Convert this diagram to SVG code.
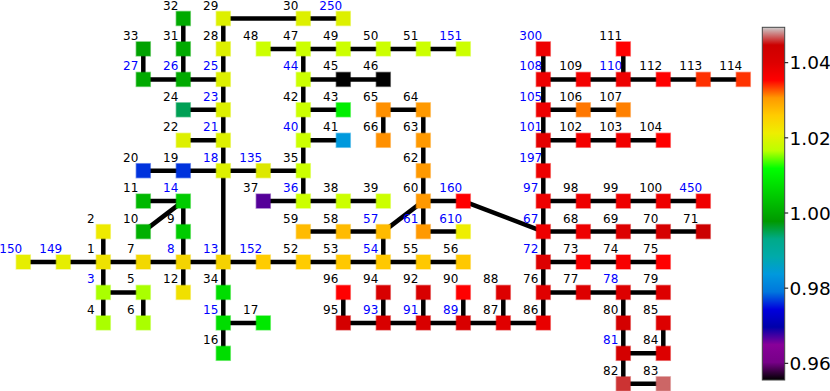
<svg xmlns="http://www.w3.org/2000/svg" width="830" height="391" viewBox="0 0 830 391">
<style>
text{font-family:"DejaVu Sans",sans-serif;font-size:12px;text-anchor:middle;fill:#000}
text.b{fill:#0000ff}
rect.n{fill:currentColor;stroke:currentColor;stroke-opacity:.45;stroke-width:1.5}
#edges line{stroke:#000;stroke-width:4.5}
.tick{font-size:18.5px;text-anchor:start}
</style>
<defs>
<linearGradient id="cmap" x1="0" y1="1" x2="0" y2="0">
<stop offset="0" stop-color="#000000"/>
<stop offset="0.05" stop-color="#770088"/>
<stop offset="0.10" stop-color="#880099"/>
<stop offset="0.15" stop-color="#0000aa"/>
<stop offset="0.20" stop-color="#0000dd"/>
<stop offset="0.25" stop-color="#0077dd"/>
<stop offset="0.30" stop-color="#0099dd"/>
<stop offset="0.35" stop-color="#00aaaa"/>
<stop offset="0.40" stop-color="#00aa88"/>
<stop offset="0.45" stop-color="#009900"/>
<stop offset="0.50" stop-color="#00bb00"/>
<stop offset="0.55" stop-color="#00dd00"/>
<stop offset="0.60" stop-color="#00ff00"/>
<stop offset="0.65" stop-color="#bbff00"/>
<stop offset="0.70" stop-color="#eeee00"/>
<stop offset="0.75" stop-color="#ffcc00"/>
<stop offset="0.80" stop-color="#ff9900"/>
<stop offset="0.85" stop-color="#ff0000"/>
<stop offset="0.90" stop-color="#dd0000"/>
<stop offset="0.95" stop-color="#cc0000"/>
<stop offset="1" stop-color="#cccccc"/>
</linearGradient>
</defs>
<rect width="830" height="391" fill="#fff"/>
<g id="edges">
<line x1="23.3" y1="262" x2="463.3" y2="262"/>
<line x1="223.3" y1="18.5" x2="343.3" y2="18.5"/>
<line x1="263.3" y1="48.9" x2="463.3" y2="48.9"/>
<line x1="143.3" y1="79.4" x2="223.3" y2="79.4"/>
<line x1="303.3" y1="79.4" x2="383.3" y2="79.4"/>
<line x1="543.3" y1="79.4" x2="743.3" y2="79.4"/>
<line x1="183.3" y1="109.8" x2="223.3" y2="109.8"/>
<line x1="303.3" y1="109.8" x2="343.3" y2="109.8"/>
<line x1="383.3" y1="109.8" x2="423.3" y2="109.8"/>
<line x1="543.3" y1="109.8" x2="623.3" y2="109.8"/>
<line x1="183.3" y1="140.3" x2="223.3" y2="140.3"/>
<line x1="303.3" y1="140.3" x2="343.3" y2="140.3"/>
<line x1="543.3" y1="140.3" x2="663.3" y2="140.3"/>
<line x1="143.3" y1="170.7" x2="303.3" y2="170.7"/>
<line x1="143.3" y1="201.1" x2="183.3" y2="201.1"/>
<line x1="263.3" y1="201.1" x2="383.3" y2="201.1"/>
<line x1="423.3" y1="201.1" x2="463.3" y2="201.1"/>
<line x1="543.3" y1="201.1" x2="703.3" y2="201.1"/>
<line x1="303.3" y1="231.6" x2="383.3" y2="231.6"/>
<line x1="423.3" y1="231.6" x2="463.3" y2="231.6"/>
<line x1="543.3" y1="231.6" x2="703.3" y2="231.6"/>
<line x1="543.3" y1="262" x2="663.3" y2="262"/>
<line x1="103.3" y1="292.4" x2="143.3" y2="292.4"/>
<line x1="543.3" y1="292.4" x2="663.3" y2="292.4"/>
<line x1="223.3" y1="322.9" x2="263.3" y2="322.9"/>
<line x1="343.3" y1="322.9" x2="543.3" y2="322.9"/>
<line x1="623.3" y1="353.3" x2="663.3" y2="353.3"/>
<line x1="623.3" y1="383.8" x2="663.3" y2="383.8"/>
<line x1="103.3" y1="231.6" x2="103.3" y2="322.9"/>
<line x1="143.3" y1="292.4" x2="143.3" y2="322.9"/>
<line x1="143.3" y1="48.9" x2="143.3" y2="79.4"/>
<line x1="183.3" y1="18.5" x2="183.3" y2="79.4"/>
<line x1="183.3" y1="201.1" x2="183.3" y2="292.4"/>
<line x1="223.3" y1="18.5" x2="223.3" y2="353.3"/>
<line x1="303.3" y1="48.9" x2="303.3" y2="201.1"/>
<line x1="383.3" y1="109.8" x2="383.3" y2="140.3"/>
<line x1="383.3" y1="231.6" x2="383.3" y2="262"/>
<line x1="423.3" y1="109.8" x2="423.3" y2="231.6"/>
<line x1="343.3" y1="292.4" x2="343.3" y2="322.9"/>
<line x1="383.3" y1="292.4" x2="383.3" y2="322.9"/>
<line x1="423.3" y1="292.4" x2="423.3" y2="322.9"/>
<line x1="463.3" y1="292.4" x2="463.3" y2="322.9"/>
<line x1="503.3" y1="292.4" x2="503.3" y2="322.9"/>
<line x1="543.3" y1="48.9" x2="543.3" y2="322.9"/>
<line x1="623.3" y1="48.9" x2="623.3" y2="79.4"/>
<line x1="623.3" y1="292.4" x2="623.3" y2="383.8"/>
<line x1="663.3" y1="322.9" x2="663.3" y2="353.3"/>
<line x1="143.3" y1="231.6" x2="183.3" y2="201.1"/>
<line x1="383.3" y1="231.6" x2="423.3" y2="201.1"/>
<line x1="463.3" y1="201.1" x2="543.3" y2="231.6"/>
</g>
<g id="n150" transform="translate(23.3,262)"><rect class="n" x="-7" y="-7" width="14" height="14" color="#e6ee00"/><text class="b" x="-12.6" y="-9">150</text></g>
<g id="n149" transform="translate(63.3,262)"><rect class="n" x="-7" y="-7" width="14" height="14" color="#e6ee00"/><text class="b" x="-12.6" y="-9">149</text></g>
<g id="n1" transform="translate(103.3,262)"><rect class="n" x="-7" y="-7" width="14" height="14" color="#eee200"/><text x="-12.6" y="-9">1</text></g>
<g id="n2" transform="translate(103.3,231.6)"><rect class="n" x="-7" y="-7" width="14" height="14" color="#eeea00"/><text x="-12.6" y="-9">2</text></g>
<g id="n3" transform="translate(103.3,292.4)"><rect class="n" x="-7" y="-7" width="14" height="14" color="#aaff00"/><text class="b" x="-12.6" y="-9">3</text></g>
<g id="n4" transform="translate(103.3,322.9)"><rect class="n" x="-7" y="-7" width="14" height="14" color="#aaff00"/><text x="-12.6" y="-9">4</text></g>
<g id="n5" transform="translate(143.3,292.4)"><rect class="n" x="-7" y="-7" width="14" height="14" color="#aaff00"/><text x="-12.6" y="-9">5</text></g>
<g id="n6" transform="translate(143.3,322.9)"><rect class="n" x="-7" y="-7" width="14" height="14" color="#aaff00"/><text x="-12.6" y="-9">6</text></g>
<g id="n7" transform="translate(143.3,262)"><rect class="n" x="-7" y="-7" width="14" height="14" color="#f2d800"/><text x="-12.6" y="-9">7</text></g>
<g id="n8" transform="translate(183.3,262)"><rect class="n" x="-7" y="-7" width="14" height="14" color="#f4d400"/><text class="b" x="-12.6" y="-9">8</text></g>
<g id="n9" transform="translate(183.3,231.6)"><rect class="n" x="-7" y="-7" width="14" height="14" color="#00cc00"/><text x="-12.6" y="-9">9</text></g>
<g id="n10" transform="translate(143.3,231.6)"><rect class="n" x="-7" y="-7" width="14" height="14" color="#00b000"/><text x="-12.6" y="-9">10</text></g>
<g id="n11" transform="translate(143.3,201.1)"><rect class="n" x="-7" y="-7" width="14" height="14" color="#00b800"/><text x="-12.6" y="-9">11</text></g>
<g id="n14" transform="translate(183.3,201.1)"><rect class="n" x="-7" y="-7" width="14" height="14" color="#00cc00"/><text class="b" x="-12.6" y="-9">14</text></g>
<g id="n12" transform="translate(183.3,292.4)"><rect class="n" x="-7" y="-7" width="14" height="14" color="#f0e000"/><text x="-12.6" y="-9">12</text></g>
<g id="n13" transform="translate(223.3,262)"><rect class="n" x="-7" y="-7" width="14" height="14" color="#f5d200"/><text class="b" x="-12.6" y="-9">13</text></g>
<g id="n34" transform="translate(223.3,292.4)"><rect class="n" x="-7" y="-7" width="14" height="14" color="#00dd00"/><text x="-12.6" y="-9">34</text></g>
<g id="n15" transform="translate(223.3,322.9)"><rect class="n" x="-7" y="-7" width="14" height="14" color="#00dd00"/><text class="b" x="-12.6" y="-9">15</text></g>
<g id="n16" transform="translate(223.3,353.3)"><rect class="n" x="-7" y="-7" width="14" height="14" color="#00dd00"/><text x="-12.6" y="-9">16</text></g>
<g id="n17" transform="translate(263.3,322.9)"><rect class="n" x="-7" y="-7" width="14" height="14" color="#00e800"/><text x="-12.6" y="-9">17</text></g>
<g id="n152" transform="translate(263.3,262)"><rect class="n" x="-7" y="-7" width="14" height="14" color="#ffcc00"/><text class="b" x="-12.6" y="-9">152</text></g>
<g id="n52" transform="translate(303.3,262)"><rect class="n" x="-7" y="-7" width="14" height="14" color="#ffcc00"/><text x="-12.6" y="-9">52</text></g>
<g id="n53" transform="translate(343.3,262)"><rect class="n" x="-7" y="-7" width="14" height="14" color="#ffc800"/><text x="-12.6" y="-9">53</text></g>
<g id="n54" transform="translate(383.3,262)"><rect class="n" x="-7" y="-7" width="14" height="14" color="#ffc800"/><text class="b" x="-12.6" y="-9">54</text></g>
<g id="n55" transform="translate(423.3,262)"><rect class="n" x="-7" y="-7" width="14" height="14" color="#ffc800"/><text x="-12.6" y="-9">55</text></g>
<g id="n56" transform="translate(463.3,262)"><rect class="n" x="-7" y="-7" width="14" height="14" color="#ffc800"/><text x="-12.6" y="-9">56</text></g>
<g id="n20" transform="translate(143.3,170.7)"><rect class="n" x="-7" y="-7" width="14" height="14" color="#0033dd"/><text x="-12.6" y="-9">20</text></g>
<g id="n19" transform="translate(183.3,170.7)"><rect class="n" x="-7" y="-7" width="14" height="14" color="#0033dd"/><text x="-12.6" y="-9">19</text></g>
<g id="n18" transform="translate(223.3,170.7)"><rect class="n" x="-7" y="-7" width="14" height="14" color="#ddf000"/><text class="b" x="-12.6" y="-9">18</text></g>
<g id="n135" transform="translate(263.3,170.7)"><rect class="n" x="-7" y="-7" width="14" height="14" color="#dde800"/><text class="b" x="-12.6" y="-9">135</text></g>
<g id="n35" transform="translate(303.3,170.7)"><rect class="n" x="-7" y="-7" width="14" height="14" color="#ccff00"/><text x="-12.6" y="-9">35</text></g>
<g id="n22" transform="translate(183.3,140.3)"><rect class="n" x="-7" y="-7" width="14" height="14" color="#ddf000"/><text x="-12.6" y="-9">22</text></g>
<g id="n21" transform="translate(223.3,140.3)"><rect class="n" x="-7" y="-7" width="14" height="14" color="#ddf000"/><text class="b" x="-12.6" y="-9">21</text></g>
<g id="n24" transform="translate(183.3,109.8)"><rect class="n" x="-7" y="-7" width="14" height="14" color="#00a055"/><text x="-12.6" y="-9">24</text></g>
<g id="n23" transform="translate(223.3,109.8)"><rect class="n" x="-7" y="-7" width="14" height="14" color="#ddf000"/><text class="b" x="-12.6" y="-9">23</text></g>
<g id="n27" transform="translate(143.3,79.4)"><rect class="n" x="-7" y="-7" width="14" height="14" color="#00aa00"/><text class="b" x="-12.6" y="-9">27</text></g>
<g id="n26" transform="translate(183.3,79.4)"><rect class="n" x="-7" y="-7" width="14" height="14" color="#00aa00"/><text class="b" x="-12.6" y="-9">26</text></g>
<g id="n25" transform="translate(223.3,79.4)"><rect class="n" x="-7" y="-7" width="14" height="14" color="#ddf000"/><text class="b" x="-12.6" y="-9">25</text></g>
<g id="n33" transform="translate(143.3,48.9)"><rect class="n" x="-7" y="-7" width="14" height="14" color="#00a200"/><text x="-12.6" y="-9">33</text></g>
<g id="n31" transform="translate(183.3,48.9)"><rect class="n" x="-7" y="-7" width="14" height="14" color="#00aa00"/><text x="-12.6" y="-9">31</text></g>
<g id="n28" transform="translate(223.3,48.9)"><rect class="n" x="-7" y="-7" width="14" height="14" color="#ddf000"/><text x="-12.6" y="-9">28</text></g>
<g id="n32" transform="translate(183.3,18.5)"><rect class="n" x="-7" y="-7" width="14" height="14" color="#00aa00"/><text x="-12.6" y="-9">32</text></g>
<g id="n29" transform="translate(223.3,18.5)"><rect class="n" x="-7" y="-7" width="14" height="14" color="#ddf000"/><text x="-12.6" y="-9">29</text></g>
<g id="n30" transform="translate(303.3,18.5)"><rect class="n" x="-7" y="-7" width="14" height="14" color="#ddf000"/><text x="-12.6" y="-9">30</text></g>
<g id="n250" transform="translate(343.3,18.5)"><rect class="n" x="-7" y="-7" width="14" height="14" color="#ddf000"/><text class="b" x="-12.6" y="-9">250</text></g>
<g id="n48" transform="translate(263.3,48.9)"><rect class="n" x="-7" y="-7" width="14" height="14" color="#ccff00"/><text x="-12.6" y="-9">48</text></g>
<g id="n47" transform="translate(303.3,48.9)"><rect class="n" x="-7" y="-7" width="14" height="14" color="#ccff00"/><text x="-12.6" y="-9">47</text></g>
<g id="n49" transform="translate(343.3,48.9)"><rect class="n" x="-7" y="-7" width="14" height="14" color="#ccff00"/><text x="-12.6" y="-9">49</text></g>
<g id="n50" transform="translate(383.3,48.9)"><rect class="n" x="-7" y="-7" width="14" height="14" color="#ccff00"/><text x="-12.6" y="-9">50</text></g>
<g id="n51" transform="translate(423.3,48.9)"><rect class="n" x="-7" y="-7" width="14" height="14" color="#ccff00"/><text x="-12.6" y="-9">51</text></g>
<g id="n151" transform="translate(463.3,48.9)"><rect class="n" x="-7" y="-7" width="14" height="14" color="#ccff00"/><text class="b" x="-12.6" y="-9">151</text></g>
<g id="n44" transform="translate(303.3,79.4)"><rect class="n" x="-7" y="-7" width="14" height="14" color="#ccff00"/><text class="b" x="-12.6" y="-9">44</text></g>
<g id="n45" transform="translate(343.3,79.4)"><rect class="n" x="-7" y="-7" width="14" height="14" color="#000000"/><text x="-12.6" y="-9">45</text></g>
<g id="n46" transform="translate(383.3,79.4)"><rect class="n" x="-7" y="-7" width="14" height="14" color="#000000"/><text x="-12.6" y="-9">46</text></g>
<g id="n42" transform="translate(303.3,109.8)"><rect class="n" x="-7" y="-7" width="14" height="14" color="#ccff00"/><text x="-12.6" y="-9">42</text></g>
<g id="n43" transform="translate(343.3,109.8)"><rect class="n" x="-7" y="-7" width="14" height="14" color="#00ee00"/><text x="-12.6" y="-9">43</text></g>
<g id="n40" transform="translate(303.3,140.3)"><rect class="n" x="-7" y="-7" width="14" height="14" color="#ccff00"/><text class="b" x="-12.6" y="-9">40</text></g>
<g id="n41" transform="translate(343.3,140.3)"><rect class="n" x="-7" y="-7" width="14" height="14" color="#0099dd"/><text x="-12.6" y="-9">41</text></g>
<g id="n37" transform="translate(263.3,201.1)"><rect class="n" x="-7" y="-7" width="14" height="14" color="#550099"/><text x="-12.6" y="-9">37</text></g>
<g id="n36" transform="translate(303.3,201.1)"><rect class="n" x="-7" y="-7" width="14" height="14" color="#ccff00"/><text class="b" x="-12.6" y="-9">36</text></g>
<g id="n38" transform="translate(343.3,201.1)"><rect class="n" x="-7" y="-7" width="14" height="14" color="#ccff00"/><text x="-12.6" y="-9">38</text></g>
<g id="n39" transform="translate(383.3,201.1)"><rect class="n" x="-7" y="-7" width="14" height="14" color="#ccff00"/><text x="-12.6" y="-9">39</text></g>
<g id="n65" transform="translate(383.3,109.8)"><rect class="n" x="-7" y="-7" width="14" height="14" color="#ff9000"/><text x="-12.6" y="-9">65</text></g>
<g id="n64" transform="translate(423.3,109.8)"><rect class="n" x="-7" y="-7" width="14" height="14" color="#ff9900"/><text x="-12.6" y="-9">64</text></g>
<g id="n66" transform="translate(383.3,140.3)"><rect class="n" x="-7" y="-7" width="14" height="14" color="#ff9000"/><text x="-12.6" y="-9">66</text></g>
<g id="n63" transform="translate(423.3,140.3)"><rect class="n" x="-7" y="-7" width="14" height="14" color="#ff9900"/><text x="-12.6" y="-9">63</text></g>
<g id="n62" transform="translate(423.3,170.7)"><rect class="n" x="-7" y="-7" width="14" height="14" color="#ff9900"/><text x="-12.6" y="-9">62</text></g>
<g id="n60" transform="translate(423.3,201.1)"><rect class="n" x="-7" y="-7" width="14" height="14" color="#ff9900"/><text x="-12.6" y="-9">60</text></g>
<g id="n160" transform="translate(463.3,201.1)"><rect class="n" x="-7" y="-7" width="14" height="14" color="#ff0000"/><text class="b" x="-12.6" y="-9">160</text></g>
<g id="n59" transform="translate(303.3,231.6)"><rect class="n" x="-7" y="-7" width="14" height="14" color="#ffbb00"/><text x="-12.6" y="-9">59</text></g>
<g id="n58" transform="translate(343.3,231.6)"><rect class="n" x="-7" y="-7" width="14" height="14" color="#ffbb00"/><text x="-12.6" y="-9">58</text></g>
<g id="n57" transform="translate(383.3,231.6)"><rect class="n" x="-7" y="-7" width="14" height="14" color="#ffbb00"/><text class="b" x="-12.6" y="-9">57</text></g>
<g id="n61" transform="translate(423.3,231.6)"><rect class="n" x="-7" y="-7" width="14" height="14" color="#ff9900"/><text class="b" x="-12.6" y="-9">61</text></g>
<g id="n610" transform="translate(463.3,231.6)"><rect class="n" x="-7" y="-7" width="14" height="14" color="#eeee00"/><text class="b" x="-12.6" y="-9">610</text></g>
<g id="n96" transform="translate(343.3,292.4)"><rect class="n" x="-7" y="-7" width="14" height="14" color="#ff0000"/><text x="-12.6" y="-9">96</text></g>
<g id="n95" transform="translate(343.3,322.9)"><rect class="n" x="-7" y="-7" width="14" height="14" color="#d40000"/><text x="-12.6" y="-9">95</text></g>
<g id="n94" transform="translate(383.3,292.4)"><rect class="n" x="-7" y="-7" width="14" height="14" color="#d80000"/><text x="-12.6" y="-9">94</text></g>
<g id="n93" transform="translate(383.3,322.9)"><rect class="n" x="-7" y="-7" width="14" height="14" color="#d80000"/><text class="b" x="-12.6" y="-9">93</text></g>
<g id="n92" transform="translate(423.3,292.4)"><rect class="n" x="-7" y="-7" width="14" height="14" color="#d80000"/><text x="-12.6" y="-9">92</text></g>
<g id="n91" transform="translate(423.3,322.9)"><rect class="n" x="-7" y="-7" width="14" height="14" color="#d80000"/><text class="b" x="-12.6" y="-9">91</text></g>
<g id="n90" transform="translate(463.3,292.4)"><rect class="n" x="-7" y="-7" width="14" height="14" color="#ff0000"/><text x="-12.6" y="-9">90</text></g>
<g id="n89" transform="translate(463.3,322.9)"><rect class="n" x="-7" y="-7" width="14" height="14" color="#d80000"/><text class="b" x="-12.6" y="-9">89</text></g>
<g id="n88" transform="translate(503.3,292.4)"><rect class="n" x="-7" y="-7" width="14" height="14" color="#dd0000"/><text x="-12.6" y="-9">88</text></g>
<g id="n87" transform="translate(503.3,322.9)"><rect class="n" x="-7" y="-7" width="14" height="14" color="#e00000"/><text x="-12.6" y="-9">87</text></g>
<g id="n86" transform="translate(543.3,322.9)"><rect class="n" x="-7" y="-7" width="14" height="14" color="#e80000"/><text x="-12.6" y="-9">86</text></g>
<g id="n76" transform="translate(543.3,292.4)"><rect class="n" x="-7" y="-7" width="14" height="14" color="#e00000"/><text x="-12.6" y="-9">76</text></g>
<g id="n77" transform="translate(583.3,292.4)"><rect class="n" x="-7" y="-7" width="14" height="14" color="#dd0000"/><text x="-12.6" y="-9">77</text></g>
<g id="n78" transform="translate(623.3,292.4)"><rect class="n" x="-7" y="-7" width="14" height="14" color="#dd0000"/><text class="b" x="-12.6" y="-9">78</text></g>
<g id="n79" transform="translate(663.3,292.4)"><rect class="n" x="-7" y="-7" width="14" height="14" color="#dd0000"/><text x="-12.6" y="-9">79</text></g>
<g id="n80" transform="translate(623.3,322.9)"><rect class="n" x="-7" y="-7" width="14" height="14" color="#d40000"/><text x="-12.6" y="-9">80</text></g>
<g id="n85" transform="translate(663.3,322.9)"><rect class="n" x="-7" y="-7" width="14" height="14" color="#dd0000"/><text x="-12.6" y="-9">85</text></g>
<g id="n81" transform="translate(623.3,353.3)"><rect class="n" x="-7" y="-7" width="14" height="14" color="#d40000"/><text class="b" x="-12.6" y="-9">81</text></g>
<g id="n84" transform="translate(663.3,353.3)"><rect class="n" x="-7" y="-7" width="14" height="14" color="#dd0000"/><text x="-12.6" y="-9">84</text></g>
<g id="n82" transform="translate(623.3,383.8)"><rect class="n" x="-7" y="-7" width="14" height="14" color="#cc3333"/><text x="-12.6" y="-9">82</text></g>
<g id="n83" transform="translate(663.3,383.8)"><rect class="n" x="-7" y="-7" width="14" height="14" color="#cc6666"/><text x="-12.6" y="-9">83</text></g>
<g id="n72" transform="translate(543.3,262)"><rect class="n" x="-7" y="-7" width="14" height="14" color="#dd0000"/><text class="b" x="-12.6" y="-9">72</text></g>
<g id="n73" transform="translate(583.3,262)"><rect class="n" x="-7" y="-7" width="14" height="14" color="#f80000"/><text x="-12.6" y="-9">73</text></g>
<g id="n74" transform="translate(623.3,262)"><rect class="n" x="-7" y="-7" width="14" height="14" color="#f80000"/><text x="-12.6" y="-9">74</text></g>
<g id="n75" transform="translate(663.3,262)"><rect class="n" x="-7" y="-7" width="14" height="14" color="#ff0000"/><text x="-12.6" y="-9">75</text></g>
<g id="n67" transform="translate(543.3,231.6)"><rect class="n" x="-7" y="-7" width="14" height="14" color="#ee0000"/><text class="b" x="-12.6" y="-9">67</text></g>
<g id="n68" transform="translate(583.3,231.6)"><rect class="n" x="-7" y="-7" width="14" height="14" color="#ee0000"/><text x="-12.6" y="-9">68</text></g>
<g id="n69" transform="translate(623.3,231.6)"><rect class="n" x="-7" y="-7" width="14" height="14" color="#dd0000"/><text x="-12.6" y="-9">69</text></g>
<g id="n70" transform="translate(663.3,231.6)"><rect class="n" x="-7" y="-7" width="14" height="14" color="#d60000"/><text x="-12.6" y="-9">70</text></g>
<g id="n71" transform="translate(703.3,231.6)"><rect class="n" x="-7" y="-7" width="14" height="14" color="#cc0000"/><text x="-12.6" y="-9">71</text></g>
<g id="n97" transform="translate(543.3,201.1)"><rect class="n" x="-7" y="-7" width="14" height="14" color="#ee0000"/><text class="b" x="-12.6" y="-9">97</text></g>
<g id="n98" transform="translate(583.3,201.1)"><rect class="n" x="-7" y="-7" width="14" height="14" color="#ee0000"/><text x="-12.6" y="-9">98</text></g>
<g id="n99" transform="translate(623.3,201.1)"><rect class="n" x="-7" y="-7" width="14" height="14" color="#ee0000"/><text x="-12.6" y="-9">99</text></g>
<g id="n100" transform="translate(663.3,201.1)"><rect class="n" x="-7" y="-7" width="14" height="14" color="#ee0000"/><text x="-12.6" y="-9">100</text></g>
<g id="n450" transform="translate(703.3,201.1)"><rect class="n" x="-7" y="-7" width="14" height="14" color="#f00000"/><text class="b" x="-12.6" y="-9">450</text></g>
<g id="n197" transform="translate(543.3,170.7)"><rect class="n" x="-7" y="-7" width="14" height="14" color="#ee0000"/><text class="b" x="-12.6" y="-9">197</text></g>
<g id="n101" transform="translate(543.3,140.3)"><rect class="n" x="-7" y="-7" width="14" height="14" color="#e40000"/><text class="b" x="-12.6" y="-9">101</text></g>
<g id="n102" transform="translate(583.3,140.3)"><rect class="n" x="-7" y="-7" width="14" height="14" color="#f40000"/><text x="-12.6" y="-9">102</text></g>
<g id="n103" transform="translate(623.3,140.3)"><rect class="n" x="-7" y="-7" width="14" height="14" color="#f20000"/><text x="-12.6" y="-9">103</text></g>
<g id="n104" transform="translate(663.3,140.3)"><rect class="n" x="-7" y="-7" width="14" height="14" color="#ff0000"/><text x="-12.6" y="-9">104</text></g>
<g id="n105" transform="translate(543.3,109.8)"><rect class="n" x="-7" y="-7" width="14" height="14" color="#ee0000"/><text class="b" x="-12.6" y="-9">105</text></g>
<g id="n106" transform="translate(583.3,109.8)"><rect class="n" x="-7" y="-7" width="14" height="14" color="#ff7700"/><text x="-12.6" y="-9">106</text></g>
<g id="n107" transform="translate(623.3,109.8)"><rect class="n" x="-7" y="-7" width="14" height="14" color="#ff8000"/><text x="-12.6" y="-9">107</text></g>
<g id="n108" transform="translate(543.3,79.4)"><rect class="n" x="-7" y="-7" width="14" height="14" color="#ee0000"/><text class="b" x="-12.6" y="-9">108</text></g>
<g id="n109" transform="translate(583.3,79.4)"><rect class="n" x="-7" y="-7" width="14" height="14" color="#f40000"/><text x="-12.6" y="-9">109</text></g>
<g id="n110" transform="translate(623.3,79.4)"><rect class="n" x="-7" y="-7" width="14" height="14" color="#ee0000"/><text class="b" x="-12.6" y="-9">110</text></g>
<g id="n112" transform="translate(663.3,79.4)"><rect class="n" x="-7" y="-7" width="14" height="14" color="#ff0000"/><text x="-12.6" y="-9">112</text></g>
<g id="n113" transform="translate(703.3,79.4)"><rect class="n" x="-7" y="-7" width="14" height="14" color="#ff3000"/><text x="-12.6" y="-9">113</text></g>
<g id="n114" transform="translate(743.3,79.4)"><rect class="n" x="-7" y="-7" width="14" height="14" color="#ff3300"/><text x="-12.6" y="-9">114</text></g>
<g id="n300" transform="translate(543.3,48.9)"><rect class="n" x="-7" y="-7" width="14" height="14" color="#ee0000"/><text class="b" x="-12.6" y="-9">300</text></g>
<g id="n111" transform="translate(623.3,48.9)"><rect class="n" x="-7" y="-7" width="14" height="14" color="#ff0000"/><text x="-12.6" y="-9">111</text></g>
<g id="colorbar">
<rect x="762.3" y="27.3" width="22.4" height="352.7" fill="url(#cmap)" stroke="#444" stroke-width="1"/>
<g stroke="#000" stroke-width="1">
<line x1="784.7" y1="62.7" x2="788.2" y2="62.7"/>
<line x1="784.7" y1="137.85" x2="788.2" y2="137.85"/>
<line x1="784.7" y1="213" x2="788.2" y2="213"/>
<line x1="784.7" y1="288.15" x2="788.2" y2="288.15"/>
<line x1="784.7" y1="363.3" x2="788.2" y2="363.3"/>
</g>
<text class="tick" x="789.5" y="69.4">1.04</text>
<text class="tick" x="789.5" y="144.5">1.02</text>
<text class="tick" x="789.5" y="219.7">1.00</text>
<text class="tick" x="789.5" y="294.8">0.98</text>
<text class="tick" x="789.5" y="370">0.96</text>
</g>
</svg>
